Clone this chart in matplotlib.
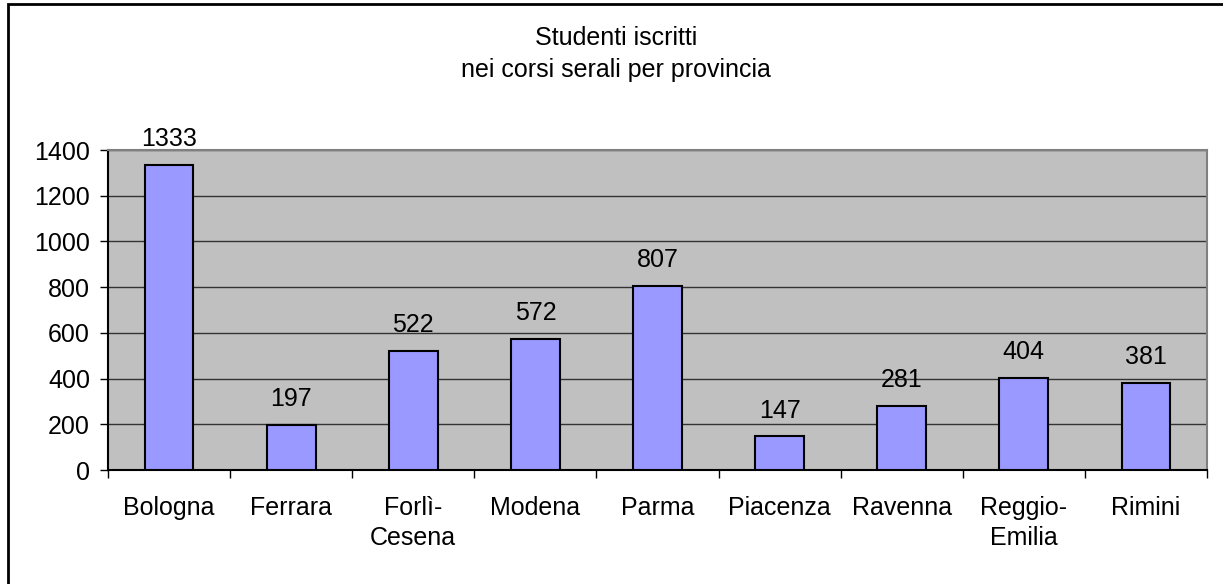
import numpy as np
import matplotlib
matplotlib.use('Agg')
import matplotlib.pyplot as plt
from matplotlib.patches import Rectangle

plt.rcParams['font.family'] = ['Liberation Sans', 'DejaVu Sans']
plt.rcParams['hatch.color'] = '#cccccc'
plt.rcParams['hatch.linewidth'] = 1.5

# dati
province = ['Bologna', 'Ferrara', 'Forlì-\nCesena', 'Modena', 'Parma',
            'Piacenza', 'Ravenna', 'Reggio-\nEmilia', 'Rimini']
studenti = [1333, 197, 522, 572, 807, 147, 281, 404, 381]
y_ticks = [0, 200, 400, 600, 800, 1000, 1200, 1400]
titolo = ['Studenti iscritti', 'nei corsi serali per provincia']

fig = plt.figure(figsize=(12.23, 5.84), dpi=100)

# sfondo tratteggiato e cornice del grafico
fig.patches.append(Rectangle((0, 0), 1, 1, transform=fig.transFigure,
                             facecolor='white', edgecolor='none', hatch='\\\\',
                             zorder=-3))
fig.patches.append(Rectangle((8 / 1223, -0.1), 1.2, 1.1 - 4 / 584,
                             transform=fig.transFigure, facecolor='white',
                             edgecolor='black', linewidth=2, zorder=-2))

ax = fig.add_axes([108 / 1223, 1 - 470 / 584, 1099 / 1223, 320 / 584])
ax.set_facecolor('#c0c0c0')

x = np.arange(len(province))
bars = ax.bar(x, studenti, width=0.4, color='#9999ff', edgecolor='black',
              linewidth=1.5, zorder=3)

for xi, v in zip(x, studenti):
    ax.annotate(str(v), (xi, v), xytext=(0, 10), textcoords='offset points',
                ha='center', va='bottom', fontsize=18)

ax.set_xlim(-0.5, len(province) - 0.5)
ax.set_ylim(0, 1400)
ax.set_yticks(y_ticks)
ax.yaxis.grid(True, color='#333333', linewidth=1)
ax.set_axisbelow(True)

ax.set_xticks(x)
ax.set_xticklabels(province, fontsize=18, linespacing=1.3)
ax.set_xticks(np.arange(len(province) + 1) - 0.5, minor=True)
ax.tick_params(axis='x', which='major', length=0, pad=19)
ax.tick_params(axis='x', which='minor', length=6, width=1, color='black')
ax.tick_params(axis='y', length=6, width=1, pad=7, labelsize=18)

for side in ['top', 'right']:
    ax.spines[side].set_color('#808080')
    ax.spines[side].set_linewidth(1.5)
for side in ['left', 'bottom']:
    ax.spines[side].set_color('black')
    ax.spines[side].set_linewidth(1.5)

for riga, yb in zip(titolo, [45, 77]):
    fig.text(616 / 1223, 1 - yb / 584, riga, ha='center', va='baseline',
             fontsize=18)

fig.savefig('out.png', dpi=100)
